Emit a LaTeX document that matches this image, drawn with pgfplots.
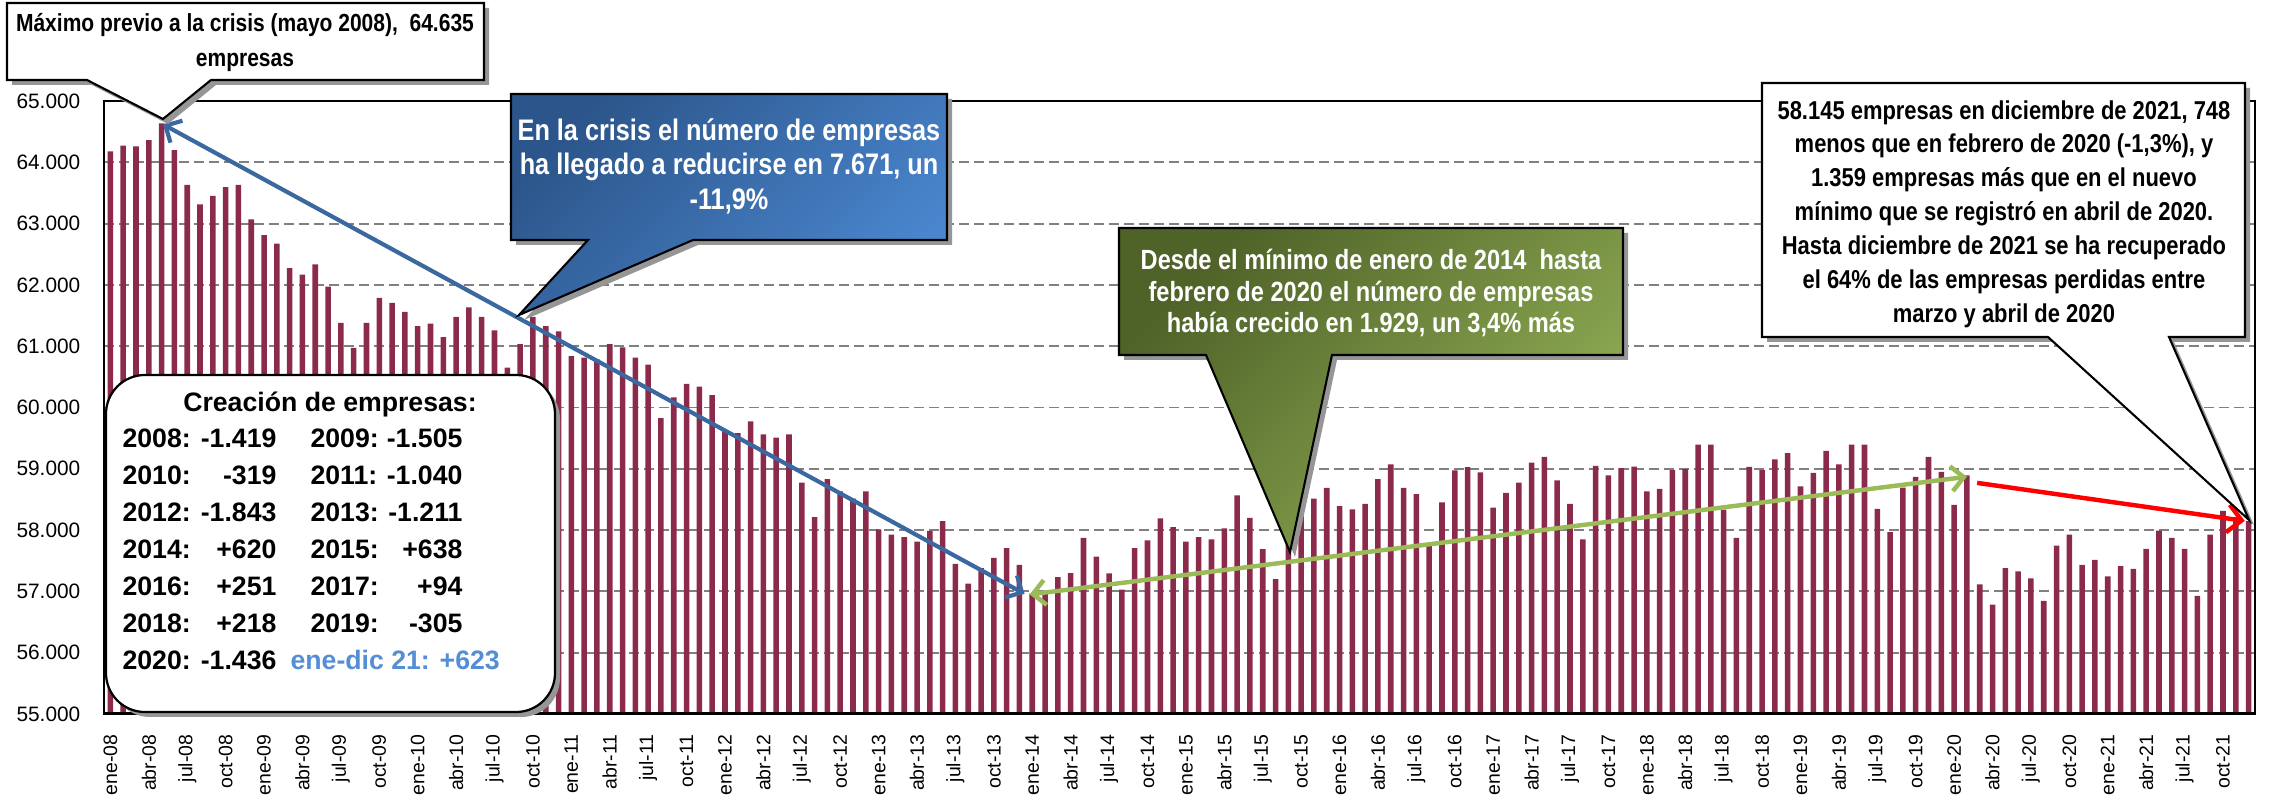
\documentclass[border=0pt]{standalone}
\usepackage{pgfplots}
\pgfplotsset{compat=1.18}
\usepackage{fontspec}
\setmainfont{Liberation Sans}
\newfontfamily\narrowfont{Liberation Sans}[FakeStretch=0.85]
\usetikzlibrary{arrows.meta}
\definecolor{barcol}{RGB}{140,42,76}
\definecolor{gridcol}{RGB}{128,128,128}
\definecolor{bluearrow}{RGB}{60,104,160}
\definecolor{bluedark}{RGB}{44,86,139}
\definecolor{bluelight}{RGB}{74,134,206}
\definecolor{greendark}{RGB}{79,98,40}
\definecolor{greenlight}{RGB}{146,176,86}
\definecolor{greenarrow}{RGB}{155,187,89}
\definecolor{shadowcol}{RGB}{150,150,150}
\definecolor{lightbluetext}{RGB}{85,142,213}
\begin{document}
\begin{tikzpicture}
\path[use as bounding box] (0,0) rectangle (820.08pt,-288.36pt);
\begin{axis}[
  at={(37.44pt,-257.04pt)}, anchor=south west,
  scale only axis, width=774.36pt, height=220.68pt,
  xmin=0.5, xmax=168.5, ymin=55000, ymax=65000,
  enlargelimits=false,
  ybar, bar width=2pt,
  ytick={55000,56000,...,65000},
  scaled y ticks=false,
  yticklabel style={font=\fontsize{7.5}{9}\selectfont, /pgf/number format/fixed, /pgf/number format/precision=0, /pgf/number format/1000 sep={.}},
  /pgf/number format/assume math mode=true,
  xtick={1,4,...,166},
  xticklabels={ene-08,abr-08,jul-08,oct-08,ene-09,abr-09,jul-09,oct-09,ene-10,abr-10,jul-10,oct-10,ene-11,abr-11,jul-11,oct-11,ene-12,abr-12,jul-12,oct-12,ene-13,abr-13,jul-13,oct-13,ene-14,abr-14,jul-14,oct-14,ene-15,abr-15,jul-15,oct-15,ene-16,abr-16,jul-16,oct-16,ene-17,abr-17,jul-17,oct-17,ene-18,abr-18,jul-18,oct-18,ene-19,abr-19,jul-19,oct-19,ene-20,abr-20,jul-20,oct-20,ene-21,abr-21,jul-21,oct-21},
  xticklabel style={rotate=90, anchor=east, font=\fontsize{7}{8}\selectfont, inner sep=1.5pt},
  xticklabel shift=1.5pt,
  yticklabel shift=5pt,
  tick label style={text=black},
  tick style={draw=none},
  ymajorgrids,
  grid style={gridcol, dash pattern=on 3.6pt off 1.8pt, line width=0.7pt},
  axis line style={black, line width=0.5pt},
]
\addplot[fill=barcol, draw=none] coordinates {
(1,64180)(2,64273)(3,64260)(4,64360)(5,64635)(6,64200)(7,63633)(8,63313)(9,63453)(10,63593)(11,63633)(12,63067)
(13,62813)(14,62673)(15,62273)(16,62167)(17,62333)(18,61973)(19,61380)(20,60973)(21,61380)(22,61787)(23,61707)(24,61560)
(25,61327)(26,61367)(27,61147)(28,61480)(29,61633)(30,61480)(31,61260)(32,60650)(33,61033)(34,61480)(35,61327)(36,61240)
(37,60840)(38,60813)(39,60787)(40,61033)(41,60980)(42,60813)(43,60700)(44,59827)(45,60167)(46,60387)(47,60340)(48,60200)
(49,59613)(50,59580)(51,59773)(52,59560)(53,59507)(54,59560)(55,58773)(56,58213)(57,58833)(58,58633)(59,58513)(60,58633)
(61,58013)(62,57927)(63,57887)(64,57813)(65,57987)(66,58147)(67,57447)(68,57127)(69,57380)(70,57547)(71,57707)(72,57433)
(73,56964)(74,56967)(75,57233)(76,57300)(77,57873)(78,57567)(79,57293)(80,57027)(81,57707)(82,57833)(83,58193)(84,58047)
(85,57813)(86,57887)(87,57847)(88,58027)(89,58567)(90,58200)(91,57690)(92,57200)(93,58150)(94,58450)(95,58514)(96,58690)
(97,58390)(98,58340)(99,58427)(100,58833)(101,59073)(102,58687)(103,58587)(104,57760)(105,58453)(106,58973)(107,59027)(108,58940)
(109,58367)(110,58607)(111,58773)(112,59100)(113,59193)(114,58813)(115,58427)(116,57847)(117,59047)(118,58893)(119,59013)(120,59036)
(121,58633)(122,58673)(123,58980)(124,58993)(125,59393)(126,59393)(127,58333)(128,57873)(129,59033)(130,58980)(131,59153)(132,59254)
(133,58713)(134,58933)(135,59293)(136,59073)(137,59393)(138,59393)(139,58347)(140,57967)(141,58693)(142,58867)(143,59193)(144,58949)
(145,58413)(146,58893)(147,57113)(148,56786)(149,57380)(150,57327)(151,57213)(152,56847)(153,57747)(154,57927)(155,57433)(156,57513)
(157,57247)(158,57413)(159,57367)(160,57693)(161,57993)(162,57873)(163,57693)(164,56927)(165,57927)(166,58313)(167,58213)(168,58145)
};
\draw[black, line width=1.1pt] (rel axis cs:0,0) -- (rel axis cs:1,0);
\draw[bluearrow, line width=1.5pt, {Straight Barb[length=4.5pt,width=9pt]}-{Straight Barb[length=4.5pt,width=9pt]}] (axis cs:5.1,64620) -- (axis cs:72.4,56960);
\draw[greenarrow, line width=1.6pt, {Straight Barb[length=4.5pt,width=9pt]}-{Straight Barb[length=4.5pt,width=9pt]}] (axis cs:72.8,56950) -- (axis cs:146,58870);
\draw[red, line width=1.6pt, -{Straight Barb[length=5pt,width=10pt]}] (axis cs:146.8,58770) -- (axis cs:167.7,58150);
\end{axis}
\begin{scope}[x=0.36pt, y=-0.36pt]
% Maximo callout
\def\maxshape{(7,3) -- (484,3) -- (484,80) -- (211,80) -- (163,119) -- (87,80) -- (7,80) -- cycle}
\fill[shadowcol, shift={(5,5)}] \maxshape;
\draw[fill=white, line width=0.75pt] \maxshape;
\node[align=center, font=\narrowfont\bfseries\fontsize{8.9}{12.6}\selectfont, inner sep=0] at (245,43) {Máximo previo a la crisis (mayo 2008), \ 64.635\\empresas};
% Blue callout
\def\blueshape{(511,94) -- (947,94) -- (947,240) -- (693,240) -- (519,315) -- (588,240) -- (511,240) -- cycle}
\fill[shadowcol, shift={(5,5)}] \blueshape;
\path[draw=black, line width=0.75pt, top color=bluedark, bottom color=bluelight, shading angle=45] \blueshape;
\node[align=center, text=white, font=\narrowfont\bfseries\fontsize{10.7}{12.4}\selectfont, inner sep=0] at (729,166) {En la crisis el número de empresas\\ha llegado a reducirse en 7.671, un\\-11,9\%};
% Green callout
\def\greenshape{(1119,228) -- (1623,228) -- (1623,355) -- (1332,355) -- (1290,552) -- (1206,355) -- (1119,355) -- cycle}
\fill[shadowcol, shift={(5,5)}] \greenshape;
\path[draw=black, line width=0.75pt, top color=greendark, bottom color=greenlight, shading angle=45] \greenshape;
\node[align=center, text=white, font=\narrowfont\bfseries\fontsize{10}{11.5}\selectfont, inner sep=0] at (1371,293) {Desde el mínimo de enero de 2014 \ hasta\\febrero de 2020 el número de empresas\\había crecido en 1.929, un 3,4\% más};
% Right callout
\def\rightshape{(1762,83) -- (2245,83) -- (2245,337) -- (2169,337) -- (2249,520) -- (2048,337) -- (1762,337) -- cycle}
\fill[shadowcol, shift={(5,5)}] \rightshape;
\draw[fill=white, line width=0.75pt] \rightshape;
\node[align=center, font=\narrowfont\bfseries\fontsize{9.3}{12.2}\selectfont, inner sep=0] at (2004,214) {58.145 empresas en diciembre de 2021, 748\\menos que en febrero de 2020 (-1,3\%), y\\1.359 empresas más que en el nuevo\\mínimo que se registró en abril de 2020.\\Hasta diciembre de 2021 se ha recuperado\\el 64\% de las empresas perdidas entre\\marzo y abril de 2020};
% Creacion box
\fill[shadowcol, rounded corners=14pt] (111,380) rectangle (560,717);
\draw[fill=white, line width=0.8pt, rounded corners=14pt] (106,375) rectangle (555,712);
\begin{scope}[every node/.style={font=\bfseries\fontsize{9.6}{11}\selectfont, inner sep=0}]
\node at (330,404) {Creación de empresas:};
\node[anchor=mid west] at (122,440) {2008:}; \node[anchor=mid east] at (277,440) {-1.419};
\node[anchor=mid west] at (310,440) {2009:}; \node[anchor=mid east] at (463,440) {-1.505};
\node[anchor=mid west] at (122,477) {2010:}; \node[anchor=mid east] at (277,477) {-319};
\node[anchor=mid west] at (310,477) {2011:}; \node[anchor=mid east] at (463,477) {-1.040};
\node[anchor=mid west] at (122,514) {2012:}; \node[anchor=mid east] at (277,514) {-1.843};
\node[anchor=mid west] at (310,514) {2013:}; \node[anchor=mid east] at (463,514) {-1.211};
\node[anchor=mid west] at (122,551) {2014:}; \node[anchor=mid east] at (277,551) {+620};
\node[anchor=mid west] at (310,551) {2015:}; \node[anchor=mid east] at (463,551) {+638};
\node[anchor=mid west] at (122,588) {2016:}; \node[anchor=mid east] at (277,588) {+251};
\node[anchor=mid west] at (310,588) {2017:}; \node[anchor=mid east] at (463,588) {+94};
\node[anchor=mid west] at (122,625) {2018:}; \node[anchor=mid east] at (277,625) {+218};
\node[anchor=mid west] at (310,625) {2019:}; \node[anchor=mid east] at (463,625) {-305};
\node[anchor=mid west] at (122,662) {2020:}; \node[anchor=mid east] at (277,662) {-1.436};
\node[anchor=mid west, text=lightbluetext] at (290,662) {ene-dic 21: +623};
\end{scope}
\end{scope}
\end{tikzpicture}
\end{document}
